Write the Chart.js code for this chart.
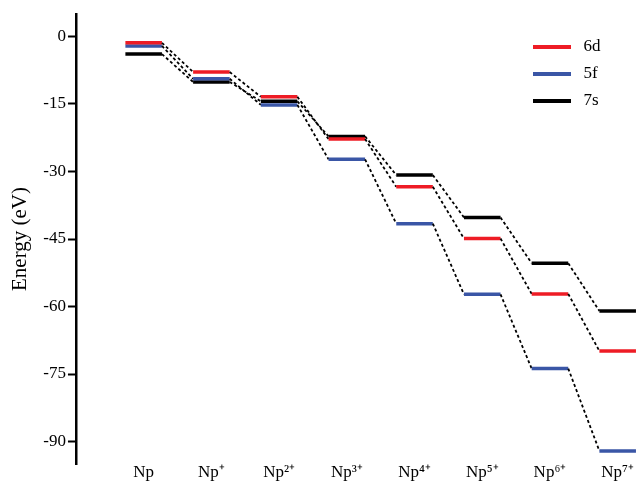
<!DOCTYPE html>
<html>
<head>
<meta charset="utf-8">
<script src="https://cdn.jsdelivr.net/npm/chart.js@4.4.0/dist/chart.umd.min.js"></script>
<style>
html, body { margin: 0; padding: 0; background: #fff; }
#wrap { width: 638px; height: 481px; }
</style>
</head>
<body>
<div id="wrap"><canvas id="c" width="638" height="481"></canvas></div>
<script>
// Np ions, by charge
var ions = ['Np', 'Np\u207A', 'Np\u00B2\u207A', 'Np\u00B3\u207A', 'Np\u2074\u207A', 'Np\u2075\u207A', 'Np\u2076\u207A', 'Np\u2077\u207A'];
// orbital energies, eV
var e6d = [-1.4, -7.9, -13.4, -22.8, -33.4, -44.9, -57.2, -69.9];
var e5f = [-2.1, -9.4, -15.2, -27.3, -41.6, -57.3, -73.8, -92.1];
var e7s = [-3.9, -10.1, -14.4, -22.2, -30.8, -40.2, -50.4, -61.0];
var yTicks = [0, -15, -30, -45, -60, -75, -90];

var HALF = 0.27; // half width of a level bar, in category units
var SERIF = 'Liberation Serif';

function levels(vals){
	var pts = [];
	vals.forEach(function(v, i){
		pts.push({x: i - HALF, y: v});
		pts.push({x: i + HALF, y: v});
	});
	return pts;
}

// small line picture for the legend
function lineIcon(color){
	var c = document.createElement('canvas');
	c.width = 38;
	c.height = 4;
	var ctx = c.getContext('2d');
	ctx.fillStyle = color;
	ctx.fillRect(0, 0, 38, 4);
	return c;
}

// even segments = the level itself, odd ones = dashed link to the next ion
function series(label, vals, color){
	return {
		label: label,
		data: levels(vals),
		borderColor: color,
		backgroundColor: color,
		borderWidth: 3.5,
		borderCapStyle: 'butt',
		pointRadius: 0,
		pointHoverRadius: 0,
		pointStyle: lineIcon(color),
		fill: false,
		tension: 0,
		segment: {
			borderColor: function(c){ return c.p0DataIndex % 2 ? '#000' : undefined; },
			borderWidth: function(c){ return c.p0DataIndex % 2 ? 1.8 : undefined; },
			borderDash: function(c){ return c.p0DataIndex % 2 ? [3, 2.5] : undefined; }
		}
	};
}

// legend sits inside the plot, top right
var legendSpot = {
	id: 'legendSpot',
	afterLayout: function(chart){
		var lg = chart.legend;
		lg.left = 519;
		lg.right = lg.left + lg.width;
		lg.top = 28;
		lg.bottom = lg.top + lg.height;
	}
};

new Chart(document.getElementById('c'), {
	type: 'line',
	data: {
		datasets: [
			series('6d', e6d, '#ee1c25'),
			series('5f', e5f, '#3a56a6'),
			series('7s', e7s, '#000000')
		]
	},
	plugins: [legendSpot],
	options: {
		responsive: false,
		animation: false,
		devicePixelRatio: 1,
		layout: { padding: { left: 0, top: 14, right: 0, bottom: 0 } },
		plugins: {
			tooltip: { enabled: false },
			legend: {
				position: 'chartArea',
				align: 'start',
				labels: {
					usePointStyle: true,
					pointStyleWidth: 46,
					padding: 10,
					color: '#000',
					font: { family: SERIF, size: 17 }
				}
			}
		},
		scales: {
			x: {
				type: 'linear',
				min: -1,
				max: 7.3,
				afterBuildTicks: function(s){
					s.ticks = ions.map(function(t, i){ return {value: i}; });
				},
				border: { display: false },
				grid: { display: false, drawTicks: false },
				ticks: {
					autoSkip: false,
					maxRotation: 0,
					padding: 0,
					color: '#000',
					font: { family: SERIF, size: 17, lineHeight: 1.0 },
					callback: function(v){ return ions[v]; }
				}
			},
			y: {
				min: -95,
				max: 5,
				afterBuildTicks: function(s){
					s.ticks = yTicks.map(function(v){ return {value: v}; });
				},
				border: { display: true, color: '#000', width: 2.5 },
				grid: { display: true, drawOnChartArea: false, drawTicks: true, tickLength: 8, tickColor: '#000', tickWidth: 2 },
				ticks: { color: '#000', padding: 2, font: { family: SERIF, size: 17 } },
				title: {
					display: true,
					text: 'Energy (eV)',
					color: '#000',
					font: { family: SERIF, size: 21 },
					padding: { top: 7.4, bottom: 8.7 }
				}
			}
		}
	}
});
</script>
</body>
</html>
